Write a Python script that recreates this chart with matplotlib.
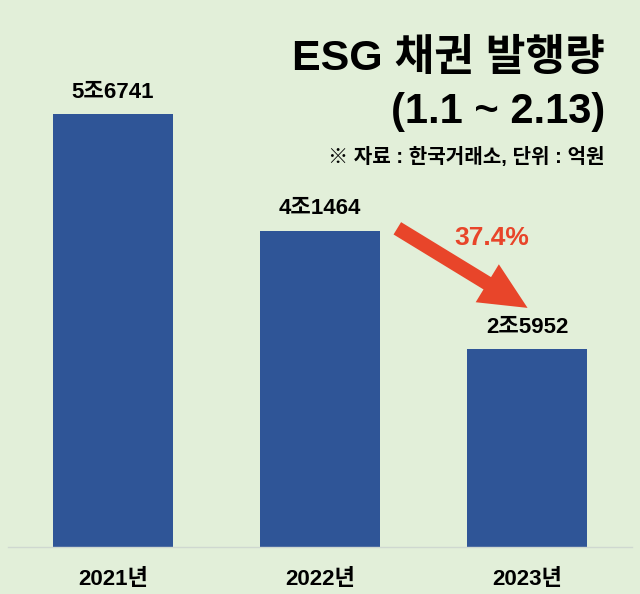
import matplotlib
matplotlib.use("Agg")
import matplotlib.pyplot as plt
from matplotlib import font_manager as fm

categories = ["2021년", "2022년", "2023년"]
values = [56741, 41464, 25952]
value_labels = ["5조6741", "4조1464", "2조5952"]
change_label = "37.4%"
title1 = "ESG 채권 발행량"
title2 = "(1.1 ~ 2.13)"
note = "※ 자료 : 한국거래소, 단위 : 억원"

names = {f.name for f in fm.fontManager.ttflist}
narrow = "Liberation Sans Narrow" if "Liberation Sans Narrow" in names else "Liberation Sans"
fam = [narrow, "Noto Sans CJK KR", "DejaVu Sans"]
fam_title = ["Liberation Sans", "Noto Sans CJK KR", "DejaVu Sans"]
plt.rcParams["font.family"] = fam

bg = "#e2efd9"
bar_c = "#2f5597"
red = "#e8452a"

W, H = 640, 594
fig = plt.figure(figsize=(W / 100, H / 100), dpi=100, facecolor=bg)
ax = fig.add_axes([8 / W, (H - 547) / H, 624 / W, 547 / H])
ax.set_facecolor(bg)
x = list(range(len(categories)))
ax.bar(x, values, width=0.58, color=bar_c, zorder=2)
ax.set_xlim(-0.507, 2.507)
ax.set_ylim(0, 71700)
for s in ["top", "right", "left"]:
    ax.spines[s].set_visible(False)
ax.spines["bottom"].set_color("#cfd8d0")
ax.spines["bottom"].set_linewidth(1.0)
ax.set_yticks([])
ax.set_xticks(x)
ax.set_xticklabels(categories, fontsize=16, fontweight="bold", family=fam)
ax.tick_params(axis="x", length=0, pad=16)

for xi, v, lab in zip(x, values, value_labels):
    ax.text(xi, v + 1500, lab, ha="center", va="bottom", fontsize=16,
            fontweight="bold", family=fam, color="black")

# arrow
ax.annotate("", xy=(2.014, values[2] + 5200), xytext=(1.362, values[1] + 500),
            arrowprops=dict(arrowstyle="simple,head_length=1.7,head_width=1.6,tail_width=0.52",
                            mutation_scale=20, color=red, lw=0), zorder=3)
ax.text(1.83, values[1] - 1000, change_label, ha="center", va="center",
        fontsize=19, fontweight="bold", color=red, family=fam)

fig.text(605 / W, 1 - 59 / H, title1, ha="right", va="center", fontsize=31,
         fontweight="bold", family=fam_title)
fig.text(605 / W, 1 - 112 / H, title2, ha="right", va="center", fontsize=30,
         fontweight="bold", family=fam_title)
fig.text(605 / W, 1 - 157 / H, note, ha="right", va="center", fontsize=14.5,
         fontweight="bold", family=fam_title)

fig.savefig("out.png", dpi=100, facecolor=bg)
